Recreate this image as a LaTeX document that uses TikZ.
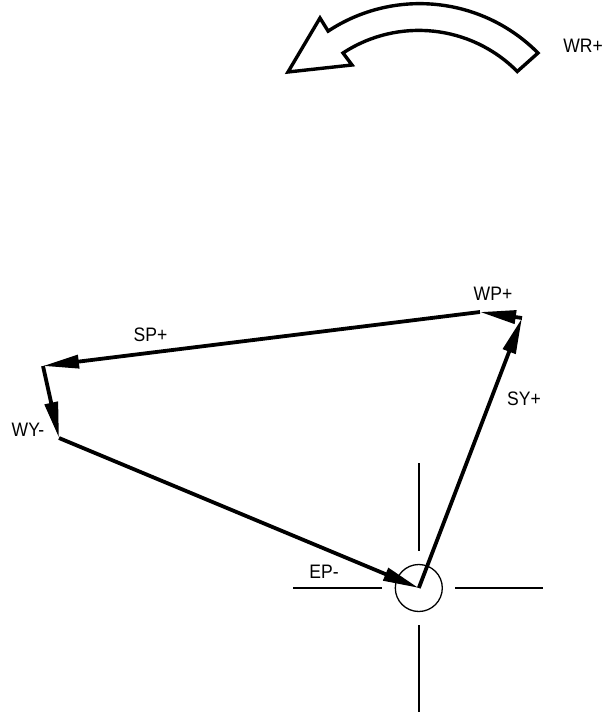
\documentclass[tikz,border=0pt]{standalone}
\usepackage{fontspec}
\setmainfont{Liberation Sans}
\usetikzlibrary{arrows.meta}
\begin{document}
\begin{tikzpicture}[x=1pt,y=1pt,
  vec/.style={line width=3.8pt,-{Triangle[length=36pt,width=13pt]}},
  thin line/.style={line width=1.3pt},
  lbl/.style={font=\fontsize{19.5}{21}\selectfont,inner sep=0pt,xscale=0.9,transform shape}]
\useasboundingbox (0,0) rectangle (610,-717);
% points
\coordinate (A) at (522,-318);
\coordinate (B) at (480,-312);
\coordinate (C) at (43,-366);
\coordinate (D) at (59,-438);
\coordinate (E) at (418.8,-588);
% crosshair and circle
\node[draw,circle,thin line,minimum size=47pt,inner sep=0pt] (ring) at (E) {};
\coordinate (hl1) at (293,-588); \coordinate (hl2) at (382,-588);
\coordinate (hr1) at (455,-588); \coordinate (hr2) at (543,-588);
\coordinate (vt1) at (419,-463); \coordinate (vt2) at (419,-551);
\coordinate (vb1) at (419,-625); \coordinate (vb2) at (419,-712);
\draw[thin line] (hl1) -- (hl2);
\draw[thin line] (hr1) -- (hr2);
\draw[thin line] (vt1) -- (vt2);
\draw[thin line] (vb1) -- (vb2);
% vectors
\draw[vec] (E) -- (A);
\draw[vec] (A) -- (B);
\draw[vec] (B) -- (C);
\draw[vec] (C) -- (D);
\draw[vec] (D) -- (E);
% curved arrow
\draw[line width=3.4pt,line join=miter]
  (538,-53) arc[start angle=44.7,end angle=123.4,radius=166.4]
  -- (320,-18) -- (288,-72) -- (352,-65) -- (343,-53)
  arc[start angle=123.2,end angle=44.7,radius=138.5] -- cycle;
% labels
\node[lbl] (wr) at (583,-46) {WR+};
\node[lbl] (wp) at (493,-294) {WP+};
\node[lbl] (sp) at (150.5,-335) {SP+};
\node[lbl] (wy) at (28,-430) {WY-};
\node[lbl] (sy) at (524,-399) {SY+};
\node[lbl] (ep) at (324,-571.5) {EP-};
\end{tikzpicture}
\end{document}
